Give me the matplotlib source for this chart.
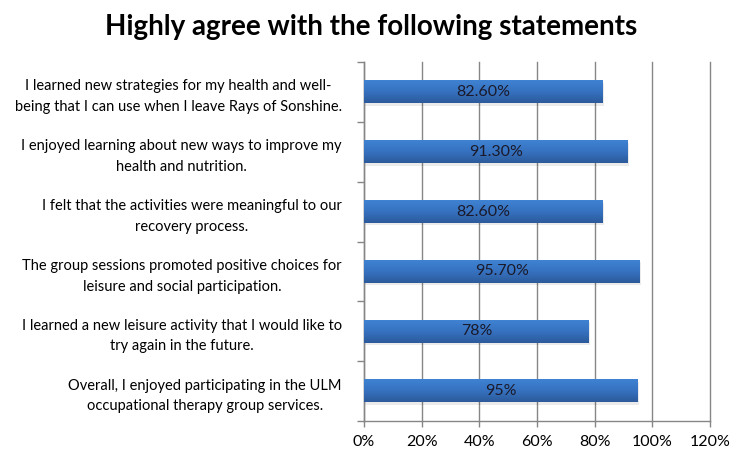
import matplotlib
matplotlib.use("Agg")
import matplotlib.pyplot as plt
import numpy as np
from matplotlib.colors import LinearSegmentedColormap
from matplotlib.patches import Rectangle

categories = [
    "I learned new strategies for my health and well-\nbeing that I can use when I leave Rays of Sonshine.",
    "I enjoyed learning about new ways to improve my\nhealth and nutrition.",
    "I felt that the activities were meaningful to our\nrecovery process.",
    "The group sessions promoted positive choices for\nleisure and social participation.",
    "I learned a new leisure activity that I would like to\ntry again in the future.",
    "Overall, I enjoyed participating in the ULM\noccupational therapy group services.",
]
values = [82.6, 91.3, 82.6, 95.7, 78, 95]
value_labels = ["82.60%", "91.30%", "82.60%", "95.70%", "78%", "95%"]
xticks = [0, 20, 40, 60, 80, 100, 120]
xtick_labels = ["0%", "20%", "40%", "60%", "80%", "100%", "120%"]
title = "Highly agree with the following statements"

plt.rcParams['font.family'] = ['Lato', 'DejaVu Sans']

fig = plt.figure(figsize=(7.42, 4.58), dpi=100)
ax = fig.add_axes([364/742, 1-421/458, (710-364)/742, (421-62)/458])

cmap = LinearSegmentedColormap.from_list("bar", ["#3f82d2", "#3672c0", "#2c5a9b"])
grad = np.linspace(0, 1, 64).reshape(-1, 1)
h = 0.38
ys = np.arange(len(values))
for y, v, lab in zip(ys, values, value_labels):
    # shadow
    ax.add_patch(Rectangle((0, y - h/2 + 0.04), v + 0.5, h, facecolor="#000000",
                           alpha=0.08, edgecolor="none", zorder=2))
    ax.imshow(grad, extent=[0, v, y + h/2, y - h/2], aspect="auto", cmap=cmap,
              zorder=3, interpolation="bilinear")
    ax.text(v/2, y, lab, ha="center", va="center", fontsize=11.5, color="#1a1a2a", zorder=4)

ax.set_xlim(0, 120)
ax.set_ylim(len(values) - 0.5, -0.5)

ax.set_xticks(xticks)
ax.set_xticklabels(xtick_labels, fontsize=11.5)
ax.set_yticks(ys)
ax.set_yticklabels(categories, fontsize=10.5, multialignment="center", linespacing=1.6)
ax.set_yticks(np.arange(-0.5, len(values)), minor=True)
ax.tick_params(axis="y", which="major", length=0, pad=16)
ax.tick_params(axis="y", which="minor", length=5, color="#868686", width=1)
ax.tick_params(axis="x", length=4, color="#868686", width=1, pad=6)

ax.grid(axis="x", color="#868686", linewidth=1, zorder=1)
for gl in ax.get_xgridlines():
    gl.set_clip_on(False)
ax.set_axisbelow(True)
for s in ["top", "right"]:
    ax.spines[s].set_visible(False)
for s in ["left", "bottom"]:
    ax.spines[s].set_color("#868686")
    ax.spines[s].set_linewidth(1)

fig.text(371/742, 1-27/458, title, ha="center", va="center", fontsize=20, fontweight="bold")

fig.savefig("out.png", dpi=100)
